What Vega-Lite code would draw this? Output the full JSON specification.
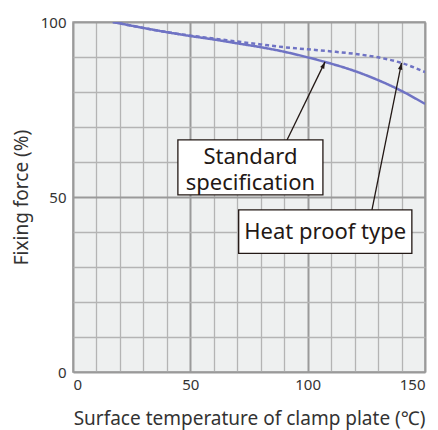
{
  "$schema": "https://vega.github.io/schema/vega-lite/v6.json",
  "width": 352,
  "height": 350,
  "autosize": {"type": "none"},
  "padding": {"left": 73, "top": 22, "right": 13, "bottom": 58},
  "background": "white",
  "config": {
    "view": {"fill": "#eef0f0", "stroke": "#9c9c9c", "strokeWidth": 1.5},
    "font": "Noto Sans",
    "axis": {"labelFont": "Noto Sans", "titleFont": "Noto Sans", "titleFontWeight": "normal", "labelColor": "#333", "titleColor": "#333"}
  },
  "datasets": {
    "curves": [
      {"t": 17, "force": 100, "type": "Standard specification"},
      {"t": 30, "force": 98.3, "type": "Standard specification"},
      {"t": 40, "force": 97.1, "type": "Standard specification"},
      {"t": 50, "force": 96.0, "type": "Standard specification"},
      {"t": 62, "force": 94.8, "type": "Standard specification"},
      {"t": 70, "force": 93.9, "type": "Standard specification"},
      {"t": 80, "force": 92.8, "type": "Standard specification"},
      {"t": 90, "force": 91.5, "type": "Standard specification"},
      {"t": 100, "force": 89.9, "type": "Standard specification"},
      {"t": 110, "force": 88.1, "type": "Standard specification"},
      {"t": 120, "force": 86.0, "type": "Standard specification"},
      {"t": 130, "force": 83.4, "type": "Standard specification"},
      {"t": 140, "force": 80.3, "type": "Standard specification"},
      {"t": 150, "force": 76.6, "type": "Standard specification"},
      {"t": 17, "force": 100, "type": "Heat proof type"},
      {"t": 30, "force": 98.3, "type": "Heat proof type"},
      {"t": 40, "force": 97.1, "type": "Heat proof type"},
      {"t": 50, "force": 96.1, "type": "Heat proof type"},
      {"t": 62, "force": 95.1, "type": "Heat proof type"},
      {"t": 70, "force": 94.4, "type": "Heat proof type"},
      {"t": 80, "force": 93.6, "type": "Heat proof type"},
      {"t": 90, "force": 92.8, "type": "Heat proof type"},
      {"t": 100, "force": 92.2, "type": "Heat proof type"},
      {"t": 110, "force": 91.6, "type": "Heat proof type"},
      {"t": 120, "force": 90.9, "type": "Heat proof type"},
      {"t": 130, "force": 89.9, "type": "Heat proof type"},
      {"t": 140, "force": 88.3, "type": "Heat proof type"},
      {"t": 150, "force": 85.7, "type": "Heat proof type"}
    ],
    "boxes": [
      {"id": "std", "bx1": 44.7, "bx2": 106.5, "by1": 50.6, "by2": 66.3, "ax1": 91.2, "ay1": 66.3, "ax2": 107.4, "ay2": 88.6},
      {"id": "heat", "bx1": 70.6, "bx2": 144.4, "by1": 33.9, "by2": 46.3, "ax1": 127.4, "ay1": 46.3, "ax2": 140.0, "ay2": 88.3}
    ],
    "labels": [
      {"label": "Standard", "lx": 75.6, "ly": 61.5},
      {"label": "specification", "lx": 75.6, "ly": 54.1},
      {"label": "Heat proof type", "lx": 107.5, "ly": 40.1}
    ]
  },
  "layer": [
    {
      "data": {"name": "curves"},
      "mark": {"type": "line", "strokeWidth": 2.5, "interpolate": "monotone", "clip": true},
      "encoding": {
        "x": {"field": "t", "type": "quantitative", "scale": {"domain": [0, 150], "nice": false},
          "axis": {"values": [0,10,20,30,40,50,60,70,80,90,100,110,120,130,140,150], "labelExpr": "datum.value % 50 === 0 ? datum.label : ''",
            "grid": true, "gridColor": {"condition": {"test": "datum.value % 50 === 0", "value": "#9a9a9a"}, "value": "#b4b4b4"},
            "gridWidth": {"condition": {"test": "datum.value % 50 === 0", "value": 2}, "value": 1.3},
            "ticks": false, "domain": false, "labelFontSize": 15, "labelPadding": 5, "labelOverlap": false,
            "title": "Surface temperature of clamp plate (℃)", "titleFontSize": 19, "titlePadding": 17}},
        "y": {"field": "force", "type": "quantitative", "scale": {"domain": [0, 100], "nice": false},
          "axis": {"values": [0,10,20,30,40,50,60,70,80,90,100], "labelExpr": "datum.value % 50 === 0 ? datum.label : ''",
            "grid": true, "gridColor": {"condition": {"test": "datum.value % 50 === 0", "value": "#9a9a9a"}, "value": "#b4b4b4"},
            "gridWidth": {"condition": {"test": "datum.value % 50 === 0", "value": 2}, "value": 1.3},
            "ticks": false, "domain": false, "labelFontSize": 15, "labelPadding": 7, "labelOverlap": false,
            "title": "Fixing force (%)", "titleFontSize": 19, "titlePadding": 9}},
        "detail": {"field": "type"},
        "color": {"value": "#6f73c4"},
        "strokeDash": {"field": "type", "type": "nominal", "scale": {"domain": ["Standard specification", "Heat proof type"], "range": [[1, 0], [4, 3]]}, "legend": null}
      }
    },
    {
      "data": {"name": "boxes"},
      "mark": {"type": "rule", "color": "#231815", "strokeWidth": 1.3},
      "encoding": {
        "x": {"field": "ax1", "type": "quantitative",
          "axis": {"values": [0,10,20,30,40,50,60,70,80,90,100,110,120,130,140,150], "labelExpr": "datum.value % 50 === 0 ? datum.label : ''",
            "grid": true, "gridColor": {"condition": {"test": "datum.value % 50 === 0", "value": "#9a9a9a"}, "value": "#b4b4b4"},
            "gridWidth": {"condition": {"test": "datum.value % 50 === 0", "value": 2}, "value": 1.3},
            "ticks": false, "domain": false, "labelFontSize": 15, "labelPadding": 5, "labelOverlap": false,
            "title": "Surface temperature of clamp plate (℃)", "titleFontSize": 19, "titlePadding": 17}},
        "y": {"field": "ay1", "type": "quantitative",
          "axis": {"values": [0,10,20,30,40,50,60,70,80,90,100], "labelExpr": "datum.value % 50 === 0 ? datum.label : ''",
            "grid": true, "gridColor": {"condition": {"test": "datum.value % 50 === 0", "value": "#9a9a9a"}, "value": "#b4b4b4"},
            "gridWidth": {"condition": {"test": "datum.value % 50 === 0", "value": 2}, "value": 1.3},
            "ticks": false, "domain": false, "labelFontSize": 15, "labelPadding": 7, "labelOverlap": false,
            "title": "Fixing force (%)", "titleFontSize": 19, "titlePadding": 9}},
        "x2": {"field": "ax2"},
        "y2": {"field": "ay2"}
      }
    },
    {
      "data": {"name": "boxes"},
      "transform": [{"filter": "datum.id === 'std'"}],
      "mark": {"type": "point", "shape": "M0,0L-0.33,1L0.33,1Z", "filled": true, "color": "#231815", "opacity": 1, "size": 180, "angle": 25},
      "encoding": {
        "x": {"field": "ax2", "type": "quantitative",
          "axis": {"values": [0,10,20,30,40,50,60,70,80,90,100,110,120,130,140,150], "labelExpr": "datum.value % 50 === 0 ? datum.label : ''",
            "grid": true, "gridColor": {"condition": {"test": "datum.value % 50 === 0", "value": "#9a9a9a"}, "value": "#b4b4b4"},
            "gridWidth": {"condition": {"test": "datum.value % 50 === 0", "value": 2}, "value": 1.3},
            "ticks": false, "domain": false, "labelFontSize": 15, "labelPadding": 5, "labelOverlap": false,
            "title": "Surface temperature of clamp plate (℃)", "titleFontSize": 19, "titlePadding": 17}},
        "y": {"field": "ay2", "type": "quantitative",
          "axis": {"values": [0,10,20,30,40,50,60,70,80,90,100], "labelExpr": "datum.value % 50 === 0 ? datum.label : ''",
            "grid": true, "gridColor": {"condition": {"test": "datum.value % 50 === 0", "value": "#9a9a9a"}, "value": "#b4b4b4"},
            "gridWidth": {"condition": {"test": "datum.value % 50 === 0", "value": 2}, "value": 1.3},
            "ticks": false, "domain": false, "labelFontSize": 15, "labelPadding": 7, "labelOverlap": false,
            "title": "Fixing force (%)", "titleFontSize": 19, "titlePadding": 9}}
      }
    },
    {
      "data": {"name": "boxes"},
      "transform": [{"filter": "datum.id === 'heat'"}],
      "mark": {"type": "point", "shape": "M0,0L-0.33,1L0.33,1Z", "filled": true, "color": "#231815", "opacity": 1, "size": 180, "angle": 12},
      "encoding": {
        "x": {"field": "ax2", "type": "quantitative",
          "axis": {"values": [0,10,20,30,40,50,60,70,80,90,100,110,120,130,140,150], "labelExpr": "datum.value % 50 === 0 ? datum.label : ''",
            "grid": true, "gridColor": {"condition": {"test": "datum.value % 50 === 0", "value": "#9a9a9a"}, "value": "#b4b4b4"},
            "gridWidth": {"condition": {"test": "datum.value % 50 === 0", "value": 2}, "value": 1.3},
            "ticks": false, "domain": false, "labelFontSize": 15, "labelPadding": 5, "labelOverlap": false,
            "title": "Surface temperature of clamp plate (℃)", "titleFontSize": 19, "titlePadding": 17}},
        "y": {"field": "ay2", "type": "quantitative",
          "axis": {"values": [0,10,20,30,40,50,60,70,80,90,100], "labelExpr": "datum.value % 50 === 0 ? datum.label : ''",
            "grid": true, "gridColor": {"condition": {"test": "datum.value % 50 === 0", "value": "#9a9a9a"}, "value": "#b4b4b4"},
            "gridWidth": {"condition": {"test": "datum.value % 50 === 0", "value": 2}, "value": 1.3},
            "ticks": false, "domain": false, "labelFontSize": 15, "labelPadding": 7, "labelOverlap": false,
            "title": "Fixing force (%)", "titleFontSize": 19, "titlePadding": 9}}
      }
    },
    {
      "data": {"name": "boxes"},
      "mark": {"type": "rect", "fill": "white", "stroke": "#231815", "strokeWidth": 1.3},
      "encoding": {
        "x": {"field": "bx1", "type": "quantitative",
          "axis": {"values": [0,10,20,30,40,50,60,70,80,90,100,110,120,130,140,150], "labelExpr": "datum.value % 50 === 0 ? datum.label : ''",
            "grid": true, "gridColor": {"condition": {"test": "datum.value % 50 === 0", "value": "#9a9a9a"}, "value": "#b4b4b4"},
            "gridWidth": {"condition": {"test": "datum.value % 50 === 0", "value": 2}, "value": 1.3},
            "ticks": false, "domain": false, "labelFontSize": 15, "labelPadding": 5, "labelOverlap": false,
            "title": "Surface temperature of clamp plate (℃)", "titleFontSize": 19, "titlePadding": 17}},
        "x2": {"field": "bx2"},
        "y": {"field": "by1", "type": "quantitative",
          "axis": {"values": [0,10,20,30,40,50,60,70,80,90,100], "labelExpr": "datum.value % 50 === 0 ? datum.label : ''",
            "grid": true, "gridColor": {"condition": {"test": "datum.value % 50 === 0", "value": "#9a9a9a"}, "value": "#b4b4b4"},
            "gridWidth": {"condition": {"test": "datum.value % 50 === 0", "value": 2}, "value": 1.3},
            "ticks": false, "domain": false, "labelFontSize": 15, "labelPadding": 7, "labelOverlap": false,
            "title": "Fixing force (%)", "titleFontSize": 19, "titlePadding": 9}},
        "y2": {"field": "by2"}
      }
    },
    {
      "data": {"name": "labels"},
      "mark": {"type": "text", "fontSize": 22, "font": "Noto Sans", "color": "#231815", "align": "center", "baseline": "middle"},
      "encoding": {
        "x": {"field": "lx", "type": "quantitative",
          "axis": {"values": [0,10,20,30,40,50,60,70,80,90,100,110,120,130,140,150], "labelExpr": "datum.value % 50 === 0 ? datum.label : ''",
            "grid": true, "gridColor": {"condition": {"test": "datum.value % 50 === 0", "value": "#9a9a9a"}, "value": "#b4b4b4"},
            "gridWidth": {"condition": {"test": "datum.value % 50 === 0", "value": 2}, "value": 1.3},
            "ticks": false, "domain": false, "labelFontSize": 15, "labelPadding": 5, "labelOverlap": false,
            "title": "Surface temperature of clamp plate (℃)", "titleFontSize": 19, "titlePadding": 17}},
        "y": {"field": "ly", "type": "quantitative",
          "axis": {"values": [0,10,20,30,40,50,60,70,80,90,100], "labelExpr": "datum.value % 50 === 0 ? datum.label : ''",
            "grid": true, "gridColor": {"condition": {"test": "datum.value % 50 === 0", "value": "#9a9a9a"}, "value": "#b4b4b4"},
            "gridWidth": {"condition": {"test": "datum.value % 50 === 0", "value": 2}, "value": 1.3},
            "ticks": false, "domain": false, "labelFontSize": 15, "labelPadding": 7, "labelOverlap": false,
            "title": "Fixing force (%)", "titleFontSize": 19, "titlePadding": 9}},
        "text": {"field": "label"}
      }
    }
  ]
}
